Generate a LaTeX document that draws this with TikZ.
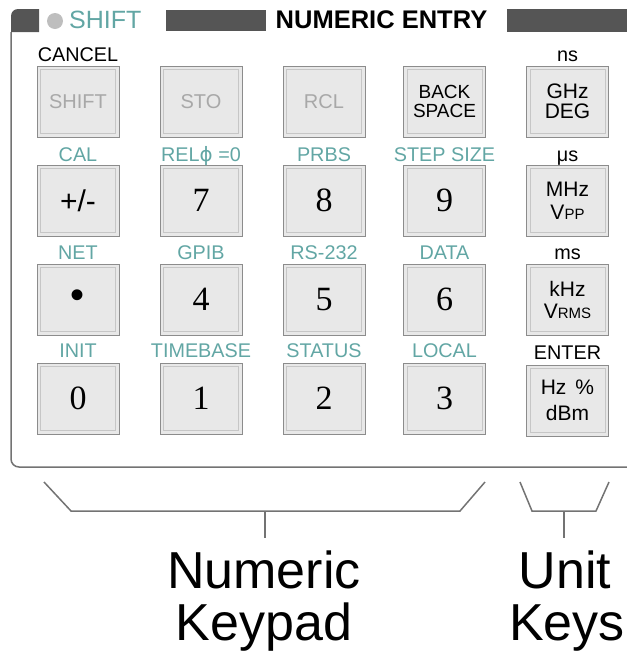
\documentclass[tikz,border=0pt]{standalone}
\usepackage{fontspec}
\setmainfont{Liberation Sans}
\newfontfamily\seriffont{Liberation Serif}
\newfontfamily\dvfont{DejaVu Sans}
\definecolor{tealtxt}{RGB}{98,166,164}
\definecolor{darkbar}{RGB}{85,85,85}
\definecolor{keyfill}{RGB}{232,232,232}
\definecolor{keyedge}{RGB}{140,140,140}
\definecolor{keyinner}{RGB}{198,198,198}
\definecolor{panelline}{RGB}{115,115,115}
\definecolor{dimtext}{RGB}{168,168,168}
\definecolor{dotgray}{RGB}{190,190,190}
\begin{document}
\begin{tikzpicture}[x=1pt,y=-1pt,
  key/.style={draw=keyedge, line width=1pt, fill=keyfill, minimum width=82pt, minimum height=71pt,
    inner sep=0pt, align=center,
    path picture={\draw[keyinner, line width=1pt]
      ([shift={(3.5pt,-3.5pt)}]path picture bounding box.north west) rectangle
      ([shift={(-3.5pt,3.5pt)}]path picture bounding box.south east);}},
  dimkey/.style={key, text=dimtext, font=\fontsize{20}{20}\selectfont},
  digkey/.style={key, font=\seriffont\fontsize{34}{34}\selectfont},
  unitkey/.style={key, font=\fontsize{21}{#1}\selectfont},
  lab/.style={anchor=base, inner sep=0pt, font=\fontsize{19.8}{20}\selectfont},
  tlab/.style={lab, text=tealtxt},
  big/.style={anchor=base, inner sep=0pt, font=\fontsize{52}{52}\selectfont},
  frame/.style={panelline, line width=1.5pt}
]
\useasboundingbox (0,0) rectangle (627,654);

% header
\fill[darkbar] (11,32) -- (11,16) to[out=90,in=180] (18,9) -- (39,9) -- (39,32) -- cycle;
\fill[dotgray] (55,21) circle (8pt);
\node[anchor=base west, inner sep=0pt, text=tealtxt, font=\fontsize{25}{25}\selectfont] (shifthdr) at (69,28) {SHIFT};
\fill[darkbar] (166,10) rectangle (266,31);
\node[anchor=base, inner sep=0pt, font=\bfseries\fontsize{25.5}{25}\selectfont] (title) at (381.5,28) {NUMERIC ENTRY};
\fill[darkbar] (507,9) rectangle (627,32);

% panel outline
\draw[frame] (11,32) -- (11,459) to[out=-90,in=180] (19,467) -- (627,467);

% row 1
\node[dimkey] (k11) at (78,101.5) {SHIFT};
\node[dimkey] (k12) at (201,101.5) {STO};
\node[dimkey] (k13) at (324,101.5) {RCL};
\node[key, font=\fontsize{19}{18.5}\selectfont] (k14) at (444.5,101.5) {BACK\\SPACE};
\node[unitkey=20] (k15) at (567.5,101.5) {GHz\\DEG};
% row 2
\node[key, font=\fontsize{30}{30}\selectfont] (k21) at (78,200.5) {+/-};
\node[digkey] (k22) at (201,200.5) {7};
\node[digkey] (k23) at (324,200.5) {8};
\node[digkey] (k24) at (444.5,200.5) {9};
\node[unitkey=23] (k25) at (567.5,200.5) {MHz\\V{\fontsize{15}{15}\selectfont PP}};
% row 3
\node[key, font=\fontsize{40}{40}\selectfont] (k31) at (78,299.5) {•};
\node[digkey] (k32) at (201,299.5) {4};
\node[digkey] (k33) at (324,299.5) {5};
\node[digkey] (k34) at (444.5,299.5) {6};
\node[unitkey=22] (k35) at (567.5,299.5) {kHz\\V{\fontsize{15}{15}\selectfont RMS}};
% row 4
\node[digkey] (k41) at (78,398.5) {0};
\node[digkey] (k42) at (201,398.5) {1};
\node[digkey] (k43) at (324,398.5) {2};
\node[digkey] (k44) at (444.5,398.5) {3};
\node[unitkey=26] (k45) at (567.5,400.5) {Hz\hskip 9pt\%\\dBm};

% labels above keys
\node[lab] (l11) at ([yshift=4pt]k11.north) {CANCEL};
\node[lab] (l15) at ([yshift=4pt]k15.north) {ns};
\node[tlab] (l21) at ([yshift=3.5pt]k21.north) {CAL};
\node[tlab] (l22) at ([yshift=3.5pt]k22.north) {REL{\dvfont ϕ} =0};
\node[tlab] (l23) at ([yshift=3.5pt]k23.north) {PRBS};
\node[tlab] (l24) at ([yshift=3.5pt]k24.north) {STEP SIZE};
\node[lab] (l25) at ([yshift=3.5pt]k25.north) {μs};
\node[tlab] (l31) at ([yshift=4pt]k31.north) {NET};
\node[tlab] (l32) at ([yshift=4pt]k32.north) {GPIB};
\node[tlab] (l33) at ([yshift=4pt]k33.north) {RS-232};
\node[tlab] (l34) at ([yshift=4pt]k34.north) {DATA};
\node[lab] (l35) at ([yshift=4pt]k35.north) {ms};
\node[tlab] (l41) at ([yshift=5pt]k41.north) {INIT};
\node[tlab] (l42) at ([yshift=5pt]k42.north) {TIMEBASE};
\node[tlab] (l43) at ([yshift=5pt]k43.north) {STATUS};
\node[tlab] (l44) at ([yshift=5pt]k44.north) {LOCAL};
\node[lab] (l45) at ([yshift=5pt]k45.north) {ENTER};

% captions
\node[big] (numeric) at (264,588) {Numeric};
\node[big] (keypad) at (264,640) {Keypad};
\node[big] (unit) at (565,588) {Unit};
\node[big] (keys) at (567,640) {Keys};

% brackets
\coordinate (nktip) at (265,538);
\coordinate (uktip) at (564,538);
\draw[frame] (44,482) -- (71,511) -- (460,511) -- (485,482);
\draw[frame] (265,511) -- (nktip);
\draw[frame] (520,482) -- (532,511) -- (596,511) -- (609,482);
\draw[frame] (564,511) -- (uktip);
\end{tikzpicture}
\end{document}
